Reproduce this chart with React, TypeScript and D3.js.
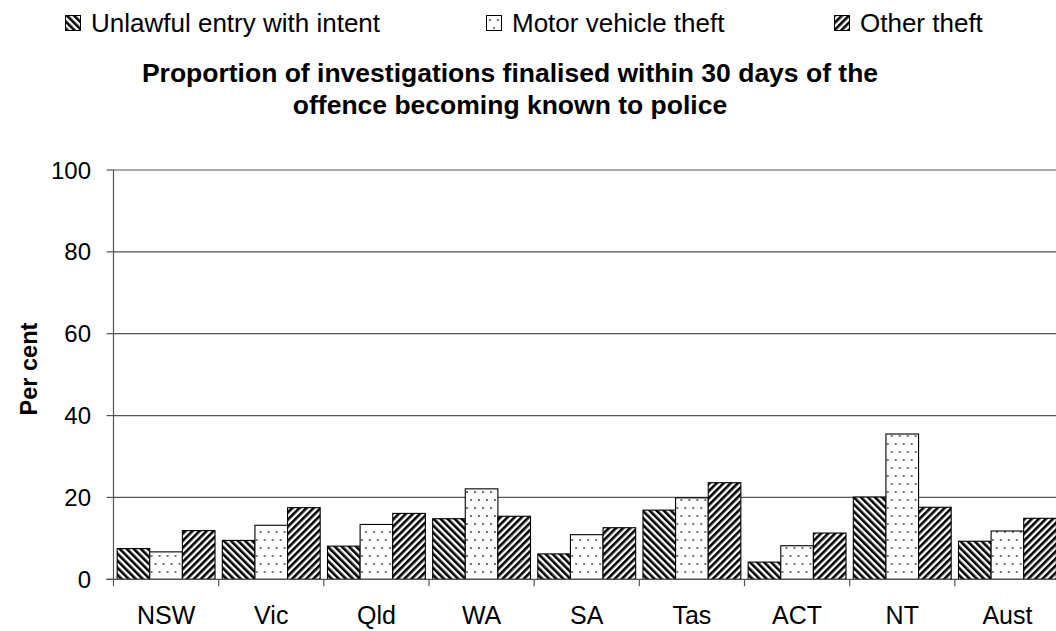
import React from "react";
import * as d3 from "d3";

const categories = ["NSW", "Vic", "Qld", "WA", "SA", "Tas", "ACT", "NT", "Aust"];
const seriesNames = ["Unlawful entry with intent", "Motor vehicle theft", "Other theft"];
const unlawfulEntry = [7.5, 9.5, 8.1, 14.8, 6.2, 16.9, 4.2, 20.1, 9.3];
const motorVehicle = [6.7, 13.2, 13.4, 22.1, 10.9, 19.9, 8.2, 35.5, 11.8];
const otherTheft = [11.9, 17.5, 16.1, 15.4, 12.6, 23.6, 11.3, 17.6, 14.9];
const yTicks = [0, 20, 40, 60, 80, 100];
const titleLines = [
  "Proportion of investigations finalised within 30 days of the",
  "offence becoming known to police",
];

const W = 1056;
const H = 631;
const plot = { left: 113.5, right: 1060, top: 170, bottom: 579.3 };
const FONT = "Arial, 'Liberation Sans', Helvetica, sans-serif";

export default function App() {
  const series = [unlawfulEntry, motorVehicle, otherTheft];
  const patterns = ["pDown", "pDots", "pUp"];
  const x0 = d3.scaleBand<string>().domain(categories).range([plot.left, plot.right]).paddingInner(0).paddingOuter(0);
  const x1 = d3.scaleBand<number>().domain([0, 1, 2]).range([0, x0.bandwidth()]).paddingOuter(0.112).paddingInner(0);
  const y = d3.scaleLinear().domain([0, 100]).range([plot.bottom, plot.top]);

  const legendX = [65, 486, 834];

  return (
    <svg width={W} height={H} style={{ position: "absolute", left: 0, top: 0, background: "#fff" }} fontFamily={FONT}>
      <defs>
        <pattern id="pDown" patternUnits="userSpaceOnUse" width={5} height={5} patternTransform="rotate(-45)">
          <rect width={5} height={5} fill="#fff" />
          <rect x={0} y={0} width={2.6} height={5} fill="#000" />
        </pattern>
        <pattern id="pUp" patternUnits="userSpaceOnUse" width={5} height={5} patternTransform="rotate(45)">
          <rect width={5} height={5} fill="#fff" />
          <rect x={0} y={0} width={2.6} height={5} fill="#000" />
        </pattern>
        <pattern id="pDots" patternUnits="userSpaceOnUse" width={8} height={16}>
          <rect width={8} height={16} fill="#fff" />
          <circle cx={2} cy={4} r={0.9} fill="#333" />
          <circle cx={6} cy={12} r={0.9} fill="#333" />
        </pattern>
      </defs>
      <rect width={W} height={H} fill="#fff" />

      {/* legend */}
      {seriesNames.map((name, i) => (
        <g key={name}>
          <rect x={legendX[i] + 0.5} y={15.5} width={15} height={15} fill={`url(#${patterns[i]})`} stroke="#000" strokeWidth={1} />
          <text x={legendX[i] + 26} y={32} fontSize={26} fill="#000">{name}</text>
        </g>
      ))}

      {/* title */}
      {titleLines.map((t, i) => (
        <text key={i} x={510} y={82 + i * 32} fontSize={26.5} fontWeight="bold" textAnchor="middle" fill="#000">{t}</text>
      ))}

      {/* gridlines */}
      {yTicks.map((t) => (
        <g key={t}>
          {t > 0 && <line x1={plot.left} x2={plot.right} y1={y(t)} y2={y(t)} stroke="#555" strokeWidth={1.2} />}
          <line x1={plot.left - 7} x2={plot.left} y1={y(t)} y2={y(t)} stroke="#555" strokeWidth={1.2} />
          <text x={91} y={y(t) + 8.6} fontSize={24} textAnchor="end" fill="#000">{t}</text>
        </g>
      ))}

      {/* bars */}
      {categories.map((c, ci) => (
        <g key={c} transform={`translate(${x0(c)},0)`}>
          {series.map((vals, si) => (
            <rect
              key={si}
              x={x1(si)}
              y={y(vals[ci])}
              width={x1.bandwidth()}
              height={y(0) - y(vals[ci])}
              fill={`url(#${patterns[si]})`}
              stroke="#000"
              strokeWidth={1.1}
            />
          ))}
        </g>
      ))}

      {/* axes */}
      <line x1={plot.left} x2={plot.left} y1={plot.top} y2={plot.bottom + 7} stroke="#555" strokeWidth={1.2} />
      <line x1={plot.left - 7} x2={plot.right} y1={plot.bottom} y2={plot.bottom} stroke="#555" strokeWidth={1.2} />
      {categories.map((c, i) => (
        <g key={c}>
          {i > 0 && <line x1={x0(c)} x2={x0(c)} y1={plot.bottom} y2={plot.bottom + 7} stroke="#555" strokeWidth={1.2} />}
          <text x={(x0(c) as number) + x0.bandwidth() / 2} y={624} fontSize={25} textAnchor="middle" fill="#000">{c}</text>
        </g>
      ))}

      {/* y axis title */}
      <text transform={`translate(37,369) rotate(-90)`} fontSize={23.5} fontWeight="bold" textAnchor="middle" fill="#000">Per cent</text>
    </svg>
  );
}
